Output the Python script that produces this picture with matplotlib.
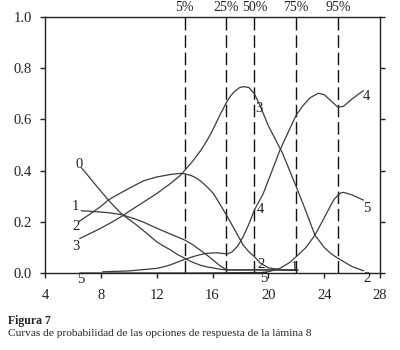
import matplotlib
matplotlib.use("Agg")
import matplotlib.pyplot as plt
import matplotlib.transforms as mtransforms

plt.rcParams['font.family'] = ['Liberation Serif', 'DejaVu Serif']

# ---- data ----
x0 = [6.63, 7, 7.5, 8, 8.54, 9, 9.56, 10, 10.5, 11, 11.5, 12, 12.5, 13, 13.5, 14, 14.5, 15.1, 15.5, 16, 16.5, 17, 18, 19, 20, 21, 22.1]
y0 = [0.41, 0.386, 0.352, 0.32, 0.285, 0.258, 0.227, 0.21, 0.19, 0.168, 0.145, 0.122, 0.105, 0.09, 0.072, 0.058, 0.044, 0.031, 0.025, 0.02, 0.015, 0.012, 0.012, 0.012, 0.012, 0.012, 0.012]

x1 = [6.6, 7, 8, 8.66, 9.56, 10.5, 11, 12, 13, 14, 14.6, 15.1, 15.6, 16.06, 16.5, 17, 18, 19, 20, 21, 22.1]
y1 = [0.243, 0.242, 0.238, 0.235, 0.227, 0.21, 0.2, 0.175, 0.152, 0.129, 0.11, 0.09, 0.07, 0.05, 0.03, 0.012, 0.012, 0.012, 0.012, 0.012, 0.012]

x2 = [6.4, 7, 8, 8.54, 9, 10, 11.05, 12, 13, 13.67, 14, 14.5, 14.87, 15.2, 15.6, 16.06, 16.5, 17, 17.6, 18.2, 18.6, 19, 19.4, 20, 21, 22.1]
y2 = [0.2, 0.222, 0.26, 0.285, 0.3, 0.33, 0.36, 0.375, 0.385, 0.389, 0.388, 0.38, 0.37, 0.357, 0.337, 0.311, 0.272, 0.226, 0.168, 0.109, 0.083, 0.064, 0.04, 0.02, 0.012, 0.01]

x3 = [6.5, 7, 8, 9, 9.6, 10, 11, 12, 13, 13.67, 14, 14.6, 15.2, 15.6, 16, 16.54, 17, 17.3, 17.6, 17.9, 18.2, 18.6, 19, 19.4, 20, 21, 22, 22.7, 23.34, 24, 24.5, 25, 26, 26.8]
y3 = [0.135, 0.148, 0.175, 0.205, 0.225, 0.24, 0.275, 0.31, 0.35, 0.38, 0.4, 0.438, 0.482, 0.517, 0.557, 0.618, 0.666, 0.692, 0.71, 0.723, 0.728, 0.725, 0.7, 0.655, 0.575, 0.47, 0.337, 0.24, 0.148, 0.1, 0.075, 0.057, 0.025, 0.009]

x4 = [8.15, 10, 12, 12.5, 13, 13.5, 14, 14.5, 15, 15.6, 16.3, 16.8, 17.1, 17.4, 17.8, 18.2, 18.6, 19, 19.64, 20.2, 20.83, 21.55, 22, 22.5, 23, 23.58, 24, 24.5, 25, 25.4, 26, 26.8]
y4 = [0.005, 0.008, 0.018, 0.024, 0.032, 0.043, 0.053, 0.062, 0.07, 0.077, 0.079, 0.076, 0.075, 0.082, 0.105, 0.142, 0.19, 0.246, 0.311, 0.39, 0.48, 0.565, 0.617, 0.655, 0.685, 0.702, 0.697, 0.672, 0.647, 0.652, 0.68, 0.712]

x5 = [6.5, 10, 15, 19.5, 20, 20.83, 21.5, 22, 22.7, 23.34, 24, 24.42, 24.7, 25, 25.2, 25.4, 26, 26.8]
y5 = [0.0, 0.0, 0.0, 0.002, 0.005, 0.018, 0.04, 0.064, 0.1, 0.148, 0.215, 0.259, 0.287, 0.305, 0.313, 0.315, 0.305, 0.285]

curves = [(x0, y0), (x1, y1), (x2, y2), (x3, y3), (x4, y4), (x5, y5)]

pct_pos = [14, 17, 19, 22, 25]
pct_labels = ['5%', '25%', '50%', '75%', '95%']

curve_labels = ['0', '1', '2', '3', '5', '3', '4', '2', '5', '1', '4', '5', '2']
label_x = [6.44, 6.2, 6.2, 6.2, 6.55, 19.33, 19.45, 19.45, 19.64, 21.85, 27.04, 27.04, 27.04]
label_y = [0.422, 0.259, 0.181, 0.103, -0.027, 0.643, 0.249, 0.035, -0.021, 0.022, 0.691, 0.253, -0.021]

xticks = [4, 8, 12, 16, 20, 24, 28]
yticks = [0.0, 0.2, 0.4, 0.6, 0.8, 1.0]

# ---- figure ----
fig = plt.figure(figsize=(4, 3.5), dpi=100)
ax = fig.add_axes([0.1125, 0.22, 0.8375, 0.7314])

line_col = '#3c3c3c'
for xs, ys in curves:
    ax.plot(xs, ys, color=line_col, lw=0.9, zorder=2, clip_on=False)

for p in pct_pos:
    ax.axvline(p, color='#111111', lw=1.0, dashes=(9, 3.5), zorder=1)

trans = mtransforms.blended_transform_factory(ax.transData, ax.transAxes)
for p, t in zip(pct_pos, pct_labels):
    ax.text(p, 1.01, t, transform=trans, ha='center', va='bottom',
            fontsize=10, color='#222222')

for t, lx, ly in zip(curve_labels, label_x, label_y):
    ax.text(lx, ly, t, ha='center', va='center', fontsize=10.5, color='#222222',
            zorder=3, clip_on=False)

ax.set_xlim(4, 28)
ax.set_ylim(0, 1.0)
ax.set_xticks(xticks)
ax.set_yticks(yticks)
ax.set_yticklabels([f'{v:.1f}' for v in yticks])
ax.tick_params(axis='both', direction='out', length=3.5, width=1.0,
               labelsize=10.5, colors='#222222')
ax.tick_params(axis='x', pad=8)
ax.tick_params(axis='y', pad=6, right=True, labelright=False)
for s in ax.spines.values():
    s.set_linewidth(1.0)
    s.set_color('#222222')

fig.text(0.02, 0.074, 'Figura 7', fontsize=8.5, fontweight='bold', color='#222222')
fig.text(0.02, 0.039, 'Curvas de probabilidad de las opciones de respuesta de la lámina 8',
         fontsize=8.2, color='#222222')

fig.savefig('out.png', dpi=100)
